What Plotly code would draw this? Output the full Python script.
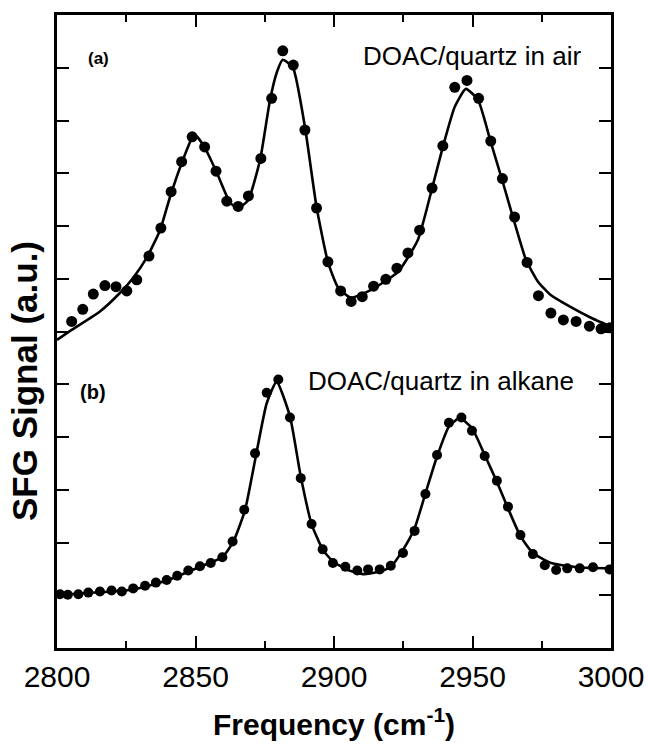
import plotly.graph_objects as go

# ---- data (x in cm^-1, signal in a.u.) ----
air_x = [2805.3, 2809.3, 2813.1, 2817.3, 2821.3, 2825.2, 2828.8, 2833.2, 2837.5, 2841.2,
         2845.0, 2848.8, 2853.3, 2857.4, 2861.3, 2865.4, 2869.1, 2873.6, 2877.5, 2881.5,
         2885.3, 2889.5, 2893.7, 2897.8, 2902.4, 2906.2, 2910.2, 2914.3, 2918.7, 2922.7,
         2926.7, 2930.9, 2935.4, 2939.3, 2943.6, 2948.0, 2952.2, 2956.6, 2960.8, 2965.2,
         2969.7, 2973.8, 2978.3, 2982.8, 2987.4, 2992.2, 2996.4, 2999.6]
air_y = [6.19, 6.42, 6.71, 6.87, 6.85, 6.77, 6.98, 7.43, 7.96, 8.65,
         9.22, 9.69, 9.50, 9.04, 8.47, 8.37, 8.57, 9.28, 10.42, 11.32,
         11.05, 9.82, 8.34, 7.32, 6.77, 6.57, 6.66, 6.86, 6.99, 7.20,
         7.49, 7.92, 8.72, 9.52, 10.63, 10.76, 10.42, 9.61, 8.90, 8.17,
         7.31, 6.68, 6.35, 6.22, 6.19, 6.10, 6.05, 6.07]

air_fit_x = [2800.0, 2805.3, 2815.5, 2822.7, 2827.4, 2832.5, 2837.2, 2840.8, 2845.0, 2848.8,
             2850.2, 2853.4, 2857.7, 2862.5, 2865.3, 2869.0, 2873.3, 2876.9, 2879.4, 2881.5,
             2885.2, 2889.5, 2893.7, 2897.8, 2901.4, 2906.1, 2913.4, 2923.1, 2930.3, 2935.0,
             2939.3, 2943.6, 2947.6, 2952.0, 2956.7, 2961.0, 2965.2, 2969.3, 2973.6,
             2978.0, 2985.2, 2992.4, 3000.0]
air_fit_y = [5.84, 6.03, 6.38, 6.73, 7.01, 7.41, 7.92, 8.55, 9.19, 9.67,
             9.71, 9.48, 9.01, 8.44, 8.34, 8.49, 9.25, 10.39, 10.92, 11.15,
             11.00, 9.88, 8.36, 7.32, 6.84, 6.64, 6.79, 7.13, 7.74, 8.63,
             9.50, 10.26, 10.60, 10.39, 9.57, 8.82, 8.06, 7.36, 6.95,
             6.70, 6.47, 6.27, 6.09]

alk_x = [2801.1, 2803.9, 2807.7, 2811.3, 2815.5, 2819.7, 2823.4, 2827.5, 2831.8, 2835.7,
         2839.6, 2843.4, 2847.4, 2851.6, 2855.5, 2859.7, 2863.4, 2867.6, 2871.5, 2875.7,
         2879.9, 2884.1, 2888.0, 2891.9, 2895.9, 2899.6, 2904.1, 2908.4, 2912.3, 2916.5,
         2920.5, 2924.9, 2929.1, 2933.0, 2937.2, 2941.5, 2946.0, 2949.8, 2954.4, 2958.8,
         2962.8, 2967.3, 2971.8, 2976.1, 2980.2, 2984.2, 2988.7, 2993.5, 2999.5]
alk_y = [1.02, 1.01, 1.02, 1.05, 1.07, 1.09, 1.07, 1.13, 1.18, 1.24,
         1.29, 1.37, 1.47, 1.55, 1.61, 1.72, 2.02, 2.62, 3.69, 4.84,
         5.09, 4.37, 3.22, 2.35, 1.87, 1.61, 1.54, 1.47, 1.49, 1.49,
         1.56, 1.80, 2.22, 2.92, 3.66, 4.27, 4.37, 4.12, 3.64, 3.17,
         2.68, 2.14, 1.78, 1.57, 1.48, 1.51, 1.51, 1.53, 1.49]

alk_fit_x = [2800.5, 2827.5, 2839.6, 2851.6, 2859.7, 2863.7, 2867.9, 2871.5, 2875.7, 2879.3,
             2884.1, 2888.0, 2891.9, 2895.9, 2899.6, 2905.0, 2910.4, 2916.5, 2920.5, 2924.9,
             2929.1, 2933.0, 2937.2, 2941.5, 2945.4, 2949.8, 2954.4, 2958.8, 2962.8, 2967.3,
             2971.8, 2978.4, 2988.0, 3000.0]
alk_fit_y = [1.01, 1.11, 1.28, 1.54, 1.72, 2.02, 2.62, 3.56, 4.64, 5.05,
             4.39, 3.25, 2.35, 1.87, 1.64, 1.48, 1.40, 1.45, 1.54, 1.86,
             2.27, 2.93, 3.63, 4.20, 4.36, 4.17, 3.66, 3.15, 2.65, 2.12,
             1.80, 1.61, 1.53, 1.51]

x_ticks = [2800, 2850, 2900, 2950, 3000]
x_tick_text = ["2800", "2850", "2900", "2950", "3000"]

FONT = "Liberation Sans, Arial, Helvetica, sans-serif"


def px_to_x(px):
    return 2800 + (px - 57) * 200 / 554


def py_to_y(py):
    return (648 - py) * 12 / 633


fig = go.Figure()
fig.add_trace(go.Scatter(x=air_fit_x, y=air_fit_y, mode="lines",
                         line=dict(color="black", width=2.6, shape="spline", smoothing=0.5),
                         showlegend=False))
fig.add_trace(go.Scatter(x=air_x, y=air_y, mode="markers",
                         marker=dict(color="black", size=11), showlegend=False))
fig.add_trace(go.Scatter(x=alk_fit_x, y=alk_fit_y, mode="lines",
                         line=dict(color="black", width=2.6, shape="spline", smoothing=0.5),
                         showlegend=False))
fig.add_trace(go.Scatter(x=alk_x, y=alk_y, mode="markers",
                         marker=dict(color="black", size=10), showlegend=False))

fig.update_layout(
    width=648, height=746,
    margin=dict(l=57, r=37, t=15, b=98, autoexpand=False),
    paper_bgcolor="white", plot_bgcolor="white",
    font=dict(family=FONT, color="black"),
    xaxis=dict(range=[2800, 3000], tickmode="array", tickvals=x_ticks, ticktext=x_tick_text,
               ticks="inside", ticklen=12, tickwidth=2, tickcolor="black",
               minor=dict(dtick=25, tick0=2800, ticks="inside", ticklen=7, tickwidth=2, tickcolor="black"),
               showline=True, linecolor="black", linewidth=3, mirror="ticks",
               showgrid=False, zeroline=False, automargin=False,
               tickfont=dict(family=FONT, size=30, color="black"), ticklabelstandoff=0),
    yaxis=dict(range=[0, 12], dtick=1, tick0=0, ticks="inside", ticklen=12, tickwidth=2,
               tickcolor="black", showticklabels=False, automargin=False,
               showline=True, linecolor="black", linewidth=3, mirror="ticks",
               showgrid=False, zeroline=False),
    annotations=[
        dict(text="(a)", x=px_to_x(98), y=py_to_y(58), xref="x", yref="y", showarrow=False,
             font=dict(family=FONT, size=17, weight="bold")),
        dict(text="(b)", x=px_to_x(93), y=py_to_y(392), xref="x", yref="y",
             showarrow=False, font=dict(family=FONT, size=20, weight="bold")),
        dict(text="DOAC/quartz in air", x=px_to_x(472), y=py_to_y(56),
             xref="x", yref="y", showarrow=False, font=dict(family=FONT, size=26)),
        dict(text="DOAC/quartz in alkane", x=px_to_x(441), y=py_to_y(381),
             xref="x", yref="y", showarrow=False, font=dict(family=FONT, size=26)),
        dict(text="Frequency (cm<sup>-1</sup>)", x=0.5, y=(648 - 722) / 633, xref="paper",
             yref="paper", showarrow=False, xanchor="center", yanchor="middle",
             font=dict(family=FONT, size=30, weight="bold")),
        dict(text="SFG Signal (a.u.)", x=(24 - 57) / 554, y=(648 - 381) / 633, xref="paper",
             yref="paper", showarrow=False, textangle=-90, xanchor="center", yanchor="middle",
             font=dict(family=FONT, size=35, weight="bold")),
    ],
)

fig.write_html("out.html")
